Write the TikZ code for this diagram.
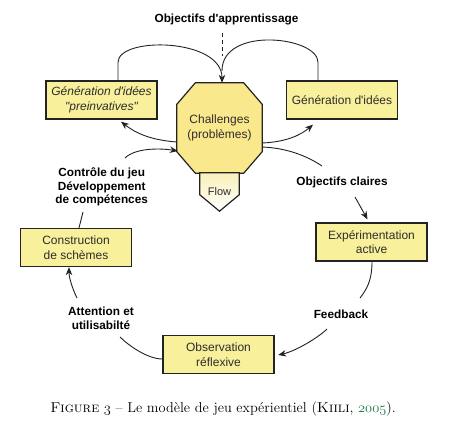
\documentclass[tikz,border=0pt]{standalone}
\usepackage{fontspec}
\newfontfamily\arial[Ligatures=TeXOff]{Liberation Sans}
\usetikzlibrary{arrows.meta,calc,backgrounds}
\definecolor{boxfill}{RGB}{248,240,155}
\definecolor{octfill}{RGB}{250,232,140}
\definecolor{flowtop}{RGB}{250,240,185}
\definecolor{cgreen}{RGB}{30,120,70}
\definecolor{lncol}{RGB}{35,35,35}
\definecolor{txtcol}{RGB}{45,45,45}
\newcommand\osfnum[1]{{\usefont{OML}{cmm}{m}{it}#1}}
\tikzset{
  box/.style={draw=lncol, line width=1.3pt, fill=boxfill, minimum width=111pt, minimum height=38pt,
    inner sep=0pt, align=center, font=\arial\fontsize{12}{14.7}\selectfont, text=txtcol},
  lbl/.style={font=\arial\bfseries\fontsize{11.8}{13.5}\selectfont, align=center, inner sep=0pt},
  conn/.style={draw=lncol, line width=0.9pt},
  arr/.style={conn, -{Stealth[length=8pt,width=6.5pt]}},
  ghost/.style={inner sep=0pt, align=center, text=txtcol},
}
\begin{document}
\begin{tikzpicture}[x=1pt,y=-1pt]
\useasboundingbox (0,0) rectangle (457,429);

% nodes
\node[lbl] (obj) at (226.5,19) {Objectifs d'apprentissage};
\node[box] (gl) at (101.5,100) {\itshape Génération d'idées\\\itshape "preinvatives"};
\node[box] (gr) at (342,100) {Génération d'idées};
\node[ghost, minimum width=85pt, minimum height=90pt,
      font=\arial\fontsize{12}{14.7}\selectfont] (ch) at (219.5,128) {Challenges\\(problèmes)};
\node[ghost, minimum width=39pt, minimum height=38pt,
      font=\arial\fontsize{11}{13}\selectfont] (fl) at (219.5,192) {\raisebox{-1pt}{Flow}};
\begin{pgfonlayer}{background}
\fill[white] (0,0) rectangle (457,429);
\filldraw[fill=octfill, draw=lncol, line width=1.2pt, line join=miter]
  ($(ch.north west)+(18.5,0)$) -- ($(ch.north east)+(-18.5,0)$) -- ($(ch.north east)+(0,21.5)$)
  -- ($(ch.south east)+(0,-21.5)$) -- ($(ch.south east)+(-18.5,0)$) -- ($(ch.south west)+(18.5,0)$)
  -- ($(ch.south west)+(0,-21.5)$) -- ($(ch.north west)+(0,21.5)$) -- cycle;
\shade[top color=flowtop, bottom color=white]
  (fl.north west) -- (fl.north east) -- ($(fl.north east)+(0,22)$) -- (fl.south) -- ($(fl.north west)+(0,22)$) -- cycle;
\draw[draw=lncol, line width=1.2pt, line join=miter]
  (fl.north west) -- (fl.north east) -- ($(fl.north east)+(0,22)$) -- (fl.south) -- ($(fl.north west)+(0,22)$) -- cycle;
\end{pgfonlayer}

\node[lbl] (ctrl) at (101.7,187) {Contrôle du jeu\\Développement\\de compétences};
\node[lbl] (oc) at (342,182) {Objectifs claires};
\node[box] (ex) at (371.5,242) {Expérimentation\\active};
\node[lbl] (fb) at (341,314) {Feedback};
\node[box] (obs) at (218.5,354.5) {Observation\\réflexive};
\node[lbl] (att) at (101,318.5) {Attention et\\utilisabilté};
\node[box] (cs) at (76,247.5) {Construction\\de schèmes};

\node[font=\fontsize{14.3}{17}\selectfont, inner sep=0pt] (cap) at (223,409)
  {{\scshape Figure} \osfnum{3} – Le modèle de jeu expérientiel ({\scshape Kiili}, \textcolor{cgreen}{\osfnum{2005}}).};

% free ends
\coordinate (dtop) at (222,33);
\coordinate (c1) at (125,158);
\coordinate (c2) at (322,166);
\coordinate (c3) at (355,197);
\coordinate (c4) at (360,298);
\coordinate (c5) at (327,329);
\coordinate (c6) at (120,337);
\coordinate (c7) at (77,298);
\coordinate (c8) at (83,212);

% connectors
\draw[conn, dash pattern=on 4pt off 3pt] (dtop) -- ($(ch.north)+(2.5,-27)$);
\draw[conn] ($(gr.north)+(-24,0)$) -- ++(0,-18) .. controls +(0,-26) and +(0,-45) .. ($(ch.north)+(2.5,-12)$);
\draw[arr] ($(gl.north)+(16.5,0)$) -- ++(0,-18) .. controls +(0,-26) and +(0,-45) .. ($(ch.north)+(2.5,0)$);
\draw[arr] ($(ch.west)+(0,14)$) .. controls +(-27,-2) and +(14,11) .. ($(gl.south)+(19.5,2)$);
\draw[arr] ($(ch.east)+(0,15)$) .. controls +(23,-1) and +(-13,11) .. ($(gr.south)+(-29,5)$);
\draw[arr] (c1) .. controls +(10,-10) and +(-18,-3) .. ($(ch.west)+(1,23)$);
\draw[conn] ($(ch.east)+(0,19)$) .. controls +(25,1) and +(-15,-10) .. (c2);
\draw[arr] (c3) -- ($(ex.north)+(-4,-3)$);
\draw[conn] ($(ex.south)+(0.5,0)$) .. controls +(0,20) and +(6,-8) .. (c4);
\draw[arr] (c5) .. controls +(-8,8) and +(18,-4) .. ($(obs.east)+(3.5,0.5)$);
\draw[conn] ($(obs.west)+(0,4.5)$) .. controls +(-15,0) and +(8,8) .. (c6);
\draw[arr] (c7) .. controls +(-5,-10) and +(0,10) .. ($(cs.south)+(-7,0)$);
\draw[conn] ($(cs.north)+(3,0)$) -- (c8);
\end{tikzpicture}
\end{document}
